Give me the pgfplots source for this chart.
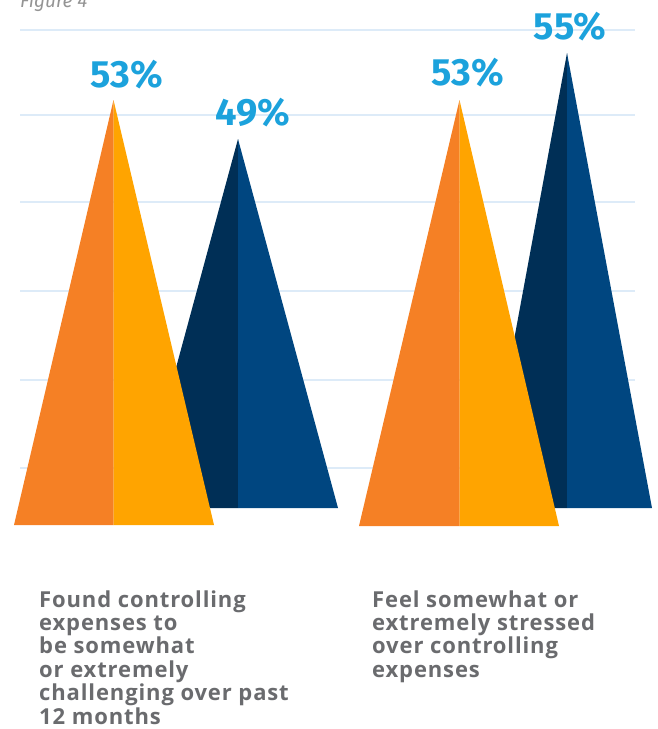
\documentclass[border=0pt]{standalone}
\usepackage{pgfplots}
\pgfplotsset{compat=1.18}
\usepackage{fontspec}
\setmainfont{Fira Sans}
\newfontfamily\bodyfont[LetterSpace=4]{Open Sans}
\definecolor{orA}{HTML}{F58025}
\definecolor{orB}{HTML}{FFA400}
\definecolor{nvA}{HTML}{002F56}
\definecolor{nvB}{HTML}{004680}
\definecolor{lblue}{HTML}{1CA2DC}
\definecolor{txtgray}{HTML}{6A6B6E}
\definecolor{gridc}{HTML}{DDEBF8}
\begin{document}
\begin{tikzpicture}
\begin{axis}[x=1pt,y=1pt,xmin=0,xmax=657,ymin=0,ymax=729,y dir=reverse,
  hide axis,clip=false,scale only axis]
% gridlines
\foreach \g in {30,115,202,291,380,468}{
  \edef\tmp{\noexpand\addplot[draw=gridc,line width=2.5pt,forget plot] coordinates {(20,\g) (635,\g)};}
  \tmp
}
% navy triangles (behind)
\addplot[fill=nvA,draw=none] coordinates {(138,508) (238,139) (238,508)} -- cycle;
\addplot[fill=nvB,draw=none] coordinates {(238,508) (238,139) (338,508)} -- cycle;
\addplot[fill=nvA,draw=none] coordinates {(483,508) (567,53) (567,508)} -- cycle;
\addplot[fill=nvB,draw=none] coordinates {(567,508) (567,53) (652,508)} -- cycle;
% orange triangles (front)
\addplot[fill=orA,draw=none] coordinates {(14,525) (113.5,100) (113.5,525)} -- cycle;
\addplot[fill=orB,draw=none] coordinates {(113.5,525) (113.5,100) (214,525)} -- cycle;
\addplot[fill=orA,draw=none] coordinates {(359,526) (459.5,100) (459.5,526)} -- cycle;
\addplot[fill=orB,draw=none] coordinates {(459.5,526) (459.5,100) (559,526)} -- cycle;
% value labels
\node[anchor=base,inner sep=0,font=\fontsize{38}{40}\selectfont\bfseries,text=lblue] at (axis cs:127,87) {53\%};
\node[anchor=base,inner sep=0,font=\fontsize{38}{40}\selectfont\bfseries,text=lblue] at (axis cs:253,125) {49\%};
\node[anchor=base,inner sep=0,font=\fontsize{38}{40}\selectfont\bfseries,text=lblue] at (axis cs:468,85) {53\%};
\node[anchor=base,inner sep=0,font=\fontsize{38}{40}\selectfont\bfseries,text=lblue] at (axis cs:570,39) {55\%};
% category texts
\tikzset{cat/.style={anchor=base west,inner sep=0,font=\bodyfont\fontsize{22}{23}\selectfont\bfseries,text=txtgray}}
\node[cat] at (axis cs:39,607) {Found controlling};
\node[cat] at (axis cs:39,630.4) {expenses to};
\node[cat] at (axis cs:39,653.8) {be somewhat};
\node[cat] at (axis cs:39,677.2) {or extremely};
\node[cat] at (axis cs:39,700.6) {challenging over past};
\node[cat] at (axis cs:39,724) {12 months};
\node[cat] at (axis cs:372,607) {Feel somewhat or};
\node[cat] at (axis cs:372,630.4) {extremely stressed};
\node[cat] at (axis cs:372,653.8) {over controlling};
\node[cat] at (axis cs:372,677.2) {expenses};
% figure caption (cut at top, as in the reference)
\node[anchor=base west,inner sep=0,font=\fontsize{19}{21}\selectfont\itshape,text=black!42] at (axis cs:20,7) {Figure 4};
\end{axis}
\pgfresetboundingbox
\path[use as bounding box] (0,0) rectangle (657pt,729pt);
\end{tikzpicture}
\end{document}
